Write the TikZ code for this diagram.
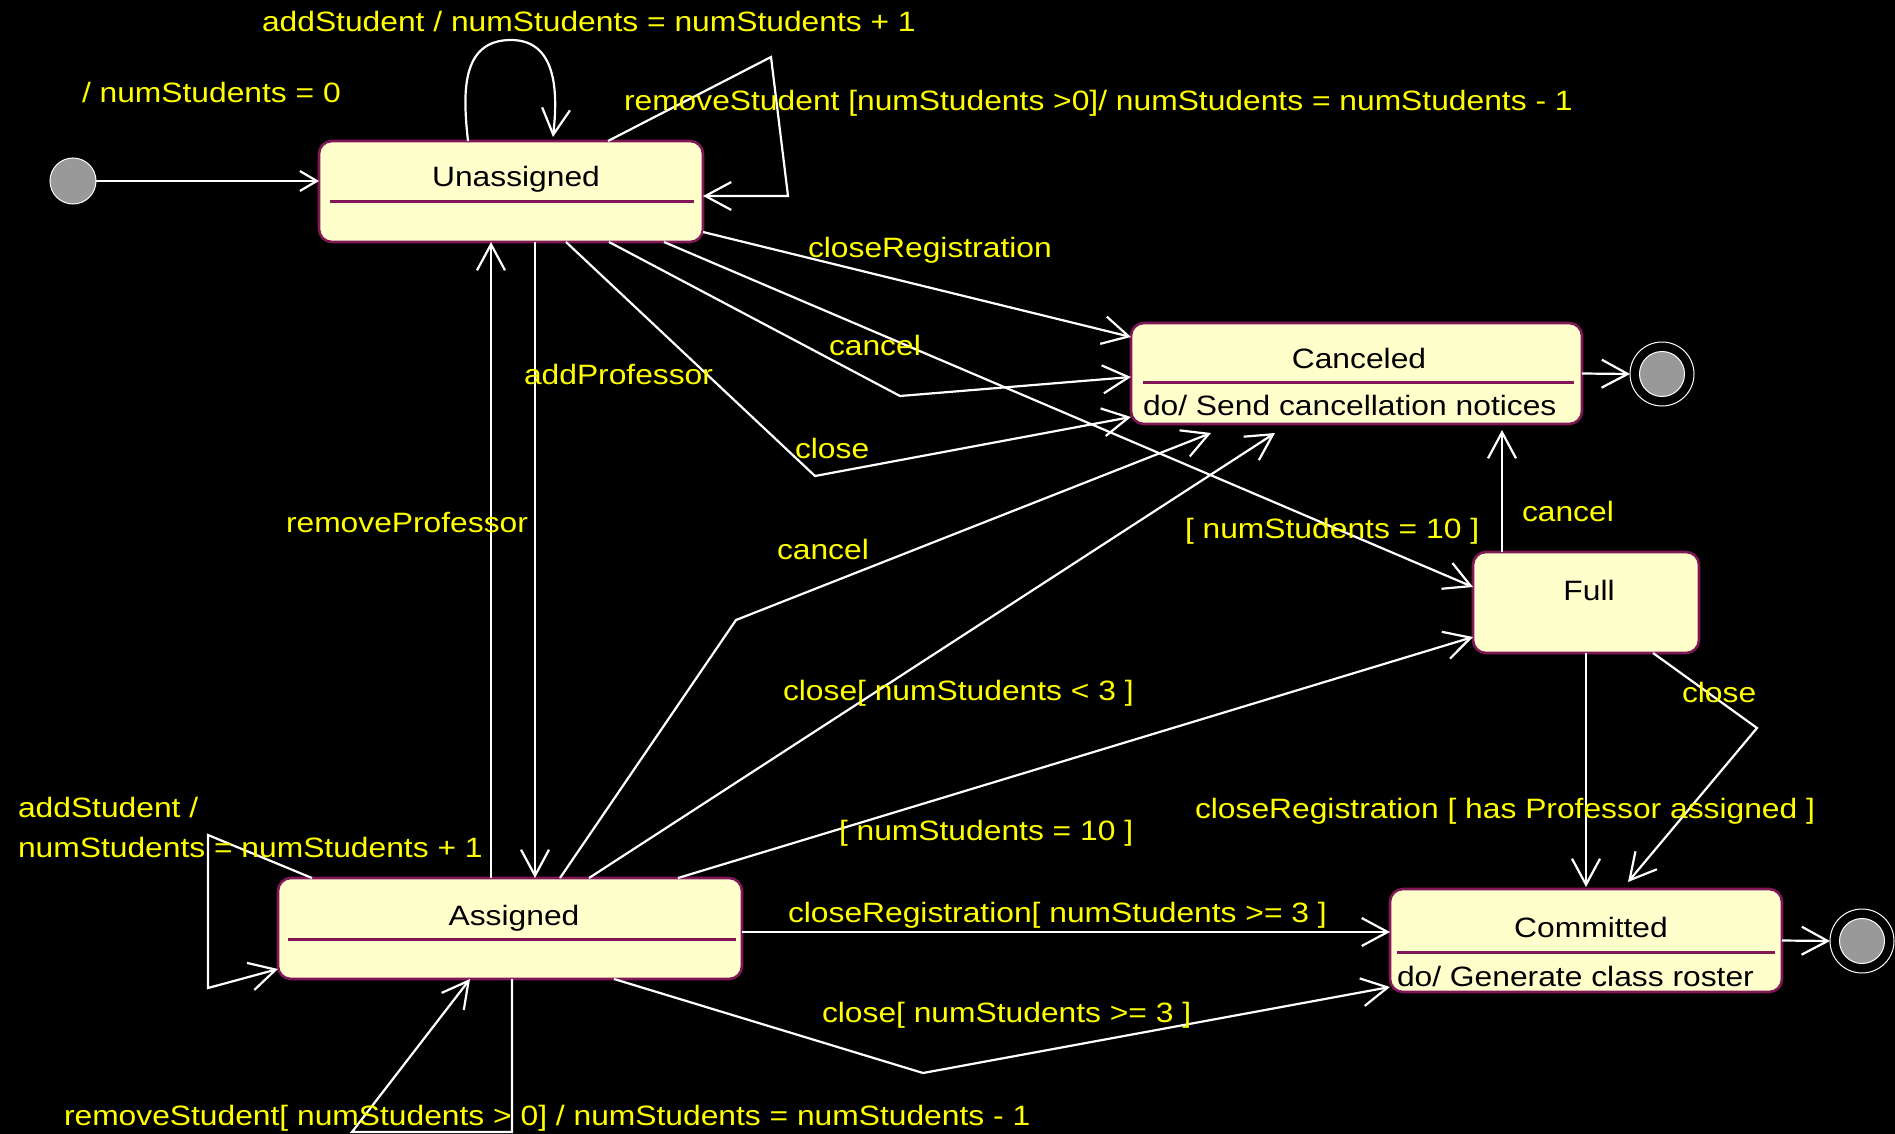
\documentclass[tikz,border=0pt]{standalone}
\usepackage{fontspec}
\setmainfont{Liberation Sans}[FakeStretch=1.135]
\usetikzlibrary{arrows.meta,calc}
\definecolor{stfill}{RGB}{255,255,204}
\definecolor{stline}{RGB}{128,24,88}
\definecolor{lbl}{RGB}{255,255,0}
\definecolor{dotgray}{RGB}{153,153,153}

\begin{document}
\begin{tikzpicture}[x=1pt,y=-1pt,
  every node/.style={inner sep=0pt, outer sep=0pt, font=\fontsize{28}{34}\selectfont},
  state/.style={rectangle, draw=stline, line width=2.6pt, fill=stfill, rounded corners=13pt, anchor=north west},
  stxt/.style={text=black, anchor=base},
  actxt/.style={text=black, anchor=base west},
  lab/.style={text=lbl, anchor=base west},
  divider/.style={draw=stline, line width=3pt},
  tr/.style={draw=white, line width=2.2pt, line join=miter, -{Straight Barb[length=26pt,width=28pt]}},
  trsmall/.style={draw=white, line width=2.2pt, -{Straight Barb[length=17pt,width=20pt]}},
  initdot/.style={circle, draw=white, line width=1pt, fill=dotgray, minimum size=46pt},
  ring/.style={circle, draw=white, line width=1pt, minimum size=64pt},
  core/.style={circle, draw=white, line width=1pt, fill=dotgray, minimum size=45pt}
]
% canvas
\fill[black] (0,0) rectangle (1895,1134);
\useasboundingbox (0,0) rectangle (1895,1134);

% states
\node[state, minimum width=384pt, minimum height=101pt] (U) at (319,141) {};
\draw[divider] ($(U.north west)+(11,61)$) -- ($(U.north east)+(-9,61)$);
\node[stxt] (Ut) at (516,187) {Unassigned};

\node[state, minimum width=451pt, minimum height=101pt] (C) at (1131,323) {};
\draw[divider] ($(C.north west)+(12,59)$) -- ($(C.north east)+(-8,59)$);
\node[stxt] (Ct) at (1359,368) {Canceled};
\node[actxt] (Ca) at (1143,415) {do/ Send cancellation notices};

\node[state, minimum width=226pt, minimum height=101pt] (F) at (1473,552) {};
\node[stxt] (Ft) at (1589,600) {Full};

\node[state, minimum width=464pt, minimum height=101pt] (A) at (278,878) {};
\draw[divider] ($(A.north west)+(10,61)$) -- ($(A.north east)+(-6,61)$);
\node[stxt] (At) at (514,925) {Assigned};

\node[state, minimum width=392pt, minimum height=103pt] (M) at (1390,889) {};
\draw[divider] ($(M.north west)+(7,63)$) -- ($(M.north east)+(-7,63)$);
\node[stxt] (Mt) at (1591,937) {Committed};
\node[actxt] (Ma) at (1397,986) {do/ Generate class roster};

% pseudo states
\node[initdot] (I) at (73,181) {};
\node[ring] (E1) at (1662,374) {};
\node[core] (E1c) at (1662,374) {};
\node[ring] (E2) at (1862,941) {};
\node[core] (E2c) at (1862,941) {};

% bend points
\coordinate (r1) at (771,57);
\coordinate (r2) at (788,196);
\coordinate (b1) at (900,396);
\coordinate (b2) at (815,476);
\coordinate (b3) at (736,620);
\coordinate (l1) at (208,835);
\coordinate (l2) at (208,988);
\coordinate (l3) at (512,1132);
\coordinate (l4) at (352,1132);
\coordinate (b4) at (923,1073);
\coordinate (b5) at (1757,728);

% transitions
\draw[trsmall] (I.east) -- (I.east -| U.west);
\draw[tr] ($(U.north west)+(149,0)$) .. controls (463,95) and (460,40) .. (511,40)
          .. controls (560,40) and (557,100) .. ($(U.north west)+(234,-4)$);
\draw[tr] ($(U.north west)+(289,0)$) -- (r1) -- (r2) -- (r2 -| U.east);
\draw[tr] ($(U.south east)+(0,-10)$) -- ($(C.north west)+(0,14)$);
\draw[tr] ($(U.south west)+(290,0)$) -- (b1) -- ($(C.north west)+(0,54)$);
\draw[tr] ($(U.south west)+(247,0)$) -- (b2) -- ($(C.north west)+(0,94)$);
\draw[tr] ($(U.south west)+(345,0)$) -- ($(F.north west)+(0,35)$);
\draw[tr] ($(U.south west)+(216,0)$) -- ($(A.north west)+(257,0)$);
\draw[tr] ($(A.north west)+(213,0)$) -- ($(U.south west)+(172,0)$);
\draw[tr] (C.east) -- (E1.west);
\draw[tr] ($(F.north west)+(29,0)$) -- ($(C.south west)+(371,6)$);
\draw[tr] ($(A.north west)+(282,0)$) -- (b3) -- ($(C.south west)+(80,9)$);
\draw[tr] ($(A.north west)+(311,0)$) -- ($(C.south west)+(144,9)$);
\draw[tr] ($(A.north west)+(400,0)$) -- ($(F.south west)+(0,-16)$);
\draw[tr] ($(A.north west)+(34,0)$) -- (l1) -- (l2) -- ($(A.south west)+(0,-10)$);
\draw[tr] ($(A.south west)+(234,0)$) -- (l3) -- (l4) -- ($(A.south west)+(192,0)$);
\draw[tr] ($(A.north east)+(0,54)$) -- ($(M.north west)+(0,43)$);
\draw[tr] ($(A.south west)+(336,0)$) -- (b4) -- ($(M.north west)+(0,98)$);
\draw[tr] ($(F.south west)+(113,0)$) -- ($(M.north west)+(196,-2)$);
\draw[tr] ($(F.south west)+(180,0)$) -- (b5) -- ($(M.north west)+(238,-7)$);
\draw[tr] (M.east) -- (E2.west);

% transition labels
\node[lab] (L1) at (262,32) {addStudent / numStudents = numStudents + 1};
\node[lab] (L2) at (82,103) {/ numStudents = 0};
\node[lab] (L3) at (624,111) {removeStudent [numStudents >0]/ numStudents = numStudents - 1};
\node[lab] (L4) at (808,257) {closeRegistration};
\node[lab] (L5) at (829,355) {cancel};
\node[lab] (L6) at (524,384) {addProfessor};
\node[lab] (L7) at (795,458) {close};
\node[lab] (L8) at (286,532) {removeProfessor};
\node[lab] (L9) at (777,559) {cancel};
\node[lab] (L10) at (1185,538) {[ numStudents = 10 ]};
\node[lab] (L11) at (1522,521) {cancel};
\node[lab] (L12) at (783,700) {close[ numStudents < 3 ]};
\node[lab] (L13) at (839,840) {[ numStudents = 10 ]};
\node[lab] (L14) at (788,922) {closeRegistration[ numStudents >= 3 ]};
\node[lab] (L15) at (822,1022) {close[ numStudents >= 3 ]};
\node[lab] (L16) at (1195,818) {closeRegistration [ has Professor assigned ]};
\node[lab] (L17) at (1682,702) {close};
\node[lab] (L18) at (18,817) {addStudent /};
\node[lab] (L19) at (18,857) {numStudents = numStudents + 1};
\node[lab] (L20) at (64,1125) {removeStudent[ numStudents > 0] / numStudents = numStudents - 1};
\end{tikzpicture}
\end{document}
